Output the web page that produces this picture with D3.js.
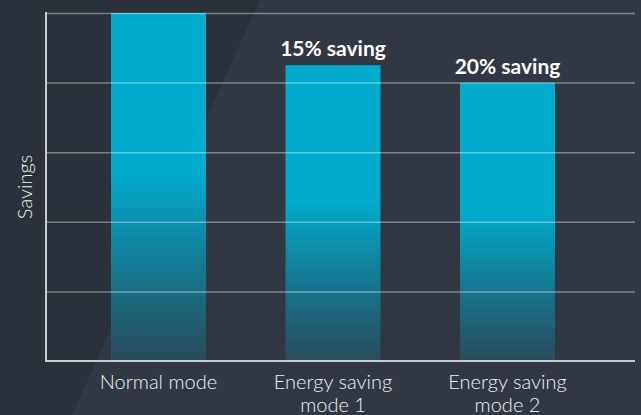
<!DOCTYPE html>
<html>
<head>
<meta charset="utf-8">
<script src="https://cdn.jsdelivr.net/npm/d3@7"></script>
<style>
  html, body { margin: 0; padding: 0; background: #2b313a; }
  svg { display: block; }
</style>
</head>
<body>
<div id="chart"></div>
<script>
// chart data
var categories = [["Normal mode"], ["Energy saving", "mode 1"], ["Energy saving", "mode 2"]];
var values = [100, 85, 80];
var notes = ["", "15% saving", "20% saving"];
var gridTicks = [20, 40, 60, 80, 100];

function drawChart() {
    var w = 641, h = 415;
    var padLeft = 46, padRight = 635, padTop = 13, padBottom = 361;
    var font = "Lato, 'Open Sans', sans-serif";

    var svg = d3.select("#chart").append("svg")
        .attr("width", w)
        .attr("height", h);

    // background with lighter diagonal panel
    svg.append("rect").attr("width", w).attr("height", h).attr("fill", "#2b313a");
    svg.append("path")
        .attr("d", "M260,0 L641,0 L641,415 L72,415 Z")
        .attr("fill", "#323843");

    var defs = svg.append("defs");
    var grad = defs.append("linearGradient")
        .attr("id", "barGrad")
        .attr("x1", 0).attr("y1", 0).attr("x2", 0).attr("y2", 1);
    grad.append("stop").attr("offset", "0").attr("stop-color", "#00abcd");
    grad.append("stop").attr("offset", "0.46").attr("stop-color", "#00abcd");
    grad.append("stop").attr("offset", "0.7").attr("stop-color", "#127e98");
    grad.append("stop").attr("offset", "1").attr("stop-color", "#2a4b5b");

    // bars sit in [46, 620]; the grid runs on to 635
    var x = d3.scaleBand()
        .domain(d3.range(categories.length))
        .range([padLeft, 620])
        .paddingInner(0.4556)
        .paddingOuter(0.3725);
    var y = d3.scaleLinear().domain([0, 100]).range([padBottom, padTop]);

    // bars
    svg.selectAll("rect.bar")
        .data(values)
        .enter()
        .append("rect")
        .attr("class", "bar")
        .attr("x", function (d, i) { return x(i); })
        .attr("y", function (d) { return y(d); })
        .attr("width", x.bandwidth())
        .attr("height", function (d) { return y(0) - y(d); })
        .attr("fill", "url(#barGrad)");

    // gridlines drawn over the bars
    var yGrid = d3.axisLeft(y).tickValues(gridTicks).tickSize(-(padRight - padLeft)).tickFormat("");
    var g = svg.append("g")
        .attr("transform", "translate(" + padLeft + ",0)")
        .call(yGrid);
    g.select(".domain").remove();
    g.selectAll(".tick line")
        .attr("stroke", "#ffffff")
        .attr("stroke-opacity", 0.38)
        .attr("stroke-width", 1.5);

    // axis lines
    svg.append("line")
        .attr("x1", padLeft).attr("x2", padLeft)
        .attr("y1", padTop - 1).attr("y2", padBottom)
        .attr("stroke", "#c9cbce").attr("stroke-width", 2);
    svg.append("line")
        .attr("x1", padLeft - 1).attr("x2", padRight)
        .attr("y1", padBottom).attr("y2", padBottom)
        .attr("stroke", "#e4e8ea").attr("stroke-opacity", 0.85).attr("stroke-width", 2);

    // bar annotations
    svg.selectAll("text.note")
        .data(values)
        .enter()
        .append("text")
        .attr("class", "note")
        .attr("x", function (d, i) { return x(i) + x.bandwidth() / 2; })
        .attr("y", function (d) { return y(d) - 9; })
        .attr("text-anchor", "middle")
        .attr("fill", "#ffffff")
        .style("font-family", font)
        .style("font-weight", "bold")
        .style("font-size", "21px")
        .text(function (d, i) { return notes[i]; });

    // category labels
    var labels = svg.selectAll("text.cat")
        .data(categories)
        .enter()
        .append("text")
        .attr("class", "cat")
        .attr("text-anchor", "middle")
        .attr("fill", "#eef0f2")
        .style("font-family", font)
        .style("font-weight", 300)
        .style("font-size", "20px");
    labels.selectAll("tspan")
        .data(function (d, i) { return d.map(function (t) { return { t: t, i: i }; }); })
        .enter()
        .append("tspan")
        .attr("x", function (d) { return x(d.i) + x.bandwidth() / 2; })
        .attr("y", function (d, j) { return 389 + j * 23; })
        .text(function (d) { return d.t; });

    // y axis title
    svg.append("text")
        .attr("transform", "translate(32," + (padTop + padBottom) / 2 + ") rotate(-90)")
        .attr("text-anchor", "middle")
        .attr("fill", "#eef0f2")
        .style("font-family", font)
        .style("font-weight", 300)
        .style("font-size", "20px")
        .text("Savings");
}

drawChart();
</script>
</body>
</html>
